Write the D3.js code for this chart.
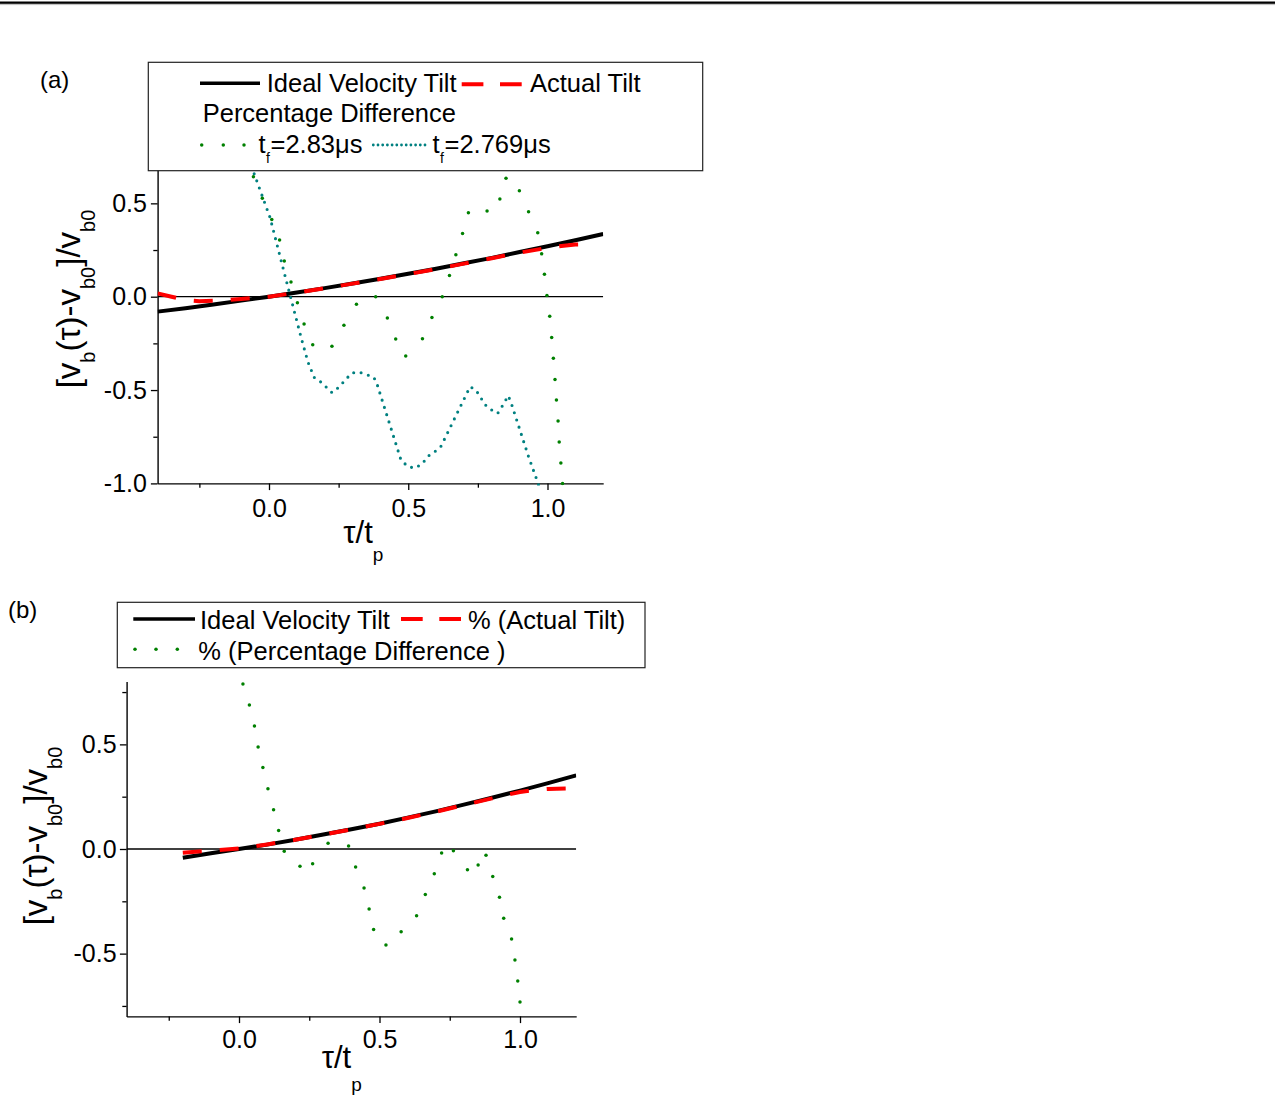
<!DOCTYPE html>
<html><head><meta charset="utf-8">
<script src="https://cdn.jsdelivr.net/npm/d3@7"></script>
<style>
body{margin:0;background:#fff}
svg{display:block}
text{font-family:"Liberation Sans",Arial,Helvetica,sans-serif;fill:#000}
</style>
</head><body>
<svg id="c" width="1275" height="1100"></svg>
<script>
// ---------------- DATA ----------------
// Panel (a)
const idealTauA = [-0.4,-0.3,-0.2,-0.1,0,0.1,0.2,0.3,0.4,0.5,0.6,0.7,0.8,0.9,1.0,1.1,1.2];
const idealValA = [-0.080,-0.062,-0.042,-0.021,0,0.023,0.046,0.071,0.096,0.123,0.150,0.179,0.208,0.239,0.270,0.302,0.336];
const actualTauA = [-0.4,-0.35,-0.3,-0.25,-0.2,-0.1,0,0.1,0.2,0.3,0.4,0.5,0.6,0.7,0.8,0.9,1.0,1.05,1.1,1.16];
const actualValA = [0.018,0.0,-0.018,-0.024,-0.022,-0.012,0.0,0.022,0.045,0.070,0.095,0.121,0.148,0.177,0.206,0.236,0.262,0.272,0.279,0.281];
const pct283Tau = [-0.056,-0.024,0.010,0.038,0.055,0.079,0.102,0.126,0.157,0.226,0.269,0.314,0.383,0.425,0.455,0.491,0.551,0.585,0.622,0.648,0.671,0.695,0.716,0.783,0.829,0.851,0.899,0.932,0.965,0.979,0.989,0.998,1.008,1.015,1.021,1.027,1.032,1.038,1.042,1.048,1.054];
const pct283Val = [0.643,0.527,0.414,0.304,0.191,0.079,-0.032,-0.146,-0.257,-0.266,-0.153,-0.041,0.0,-0.114,-0.227,-0.318,-0.225,-0.111,0.0,0.113,0.225,0.338,0.450,0.459,0.523,0.634,0.568,0.455,0.343,0.230,0.120,0.007,-0.105,-0.218,-0.330,-0.443,-0.553,-0.666,-0.778,-0.891,-1.0];
const pct2769Tau = [-0.10,-0.056,0.004,0.060,0.117,0.140,0.162,0.188,0.226,0.250,0.296,0.321,0.376,0.388,0.474,0.499,0.525,0.551,0.570,0.591,0.618,0.722,0.743,0.777,0.802,0.821,0.838,0.859,0.870,0.932,0.961,0.975];
const pct2769Val = [0.85,0.670,0.423,0.098,-0.228,-0.350,-0.432,-0.459,-0.514,-0.486,-0.410,-0.403,-0.430,-0.468,-0.875,-0.910,-0.918,-0.894,-0.855,-0.836,-0.800,-0.482,-0.500,-0.580,-0.610,-0.625,-0.585,-0.530,-0.571,-0.857,-0.978,-1.04];

// Panel (b)
const idealTauB = [-0.2,-0.1,0,0.1,0.2,0.3,0.4,0.5,0.6,0.7,0.8,0.9,1.0,1.1,1.2];
const idealValB = [-0.042,-0.020,0,0.021,0.044,0.069,0.094,0.121,0.150,0.180,0.212,0.245,0.279,0.315,0.352];
const actualTauB = [-0.2,-0.1,0,0.1,0.2,0.3,0.4,0.5,0.6,0.7,0.8,0.9,0.95,1.0,1.05,1.1,1.2];
const actualValB = [-0.018,-0.008,0.002,0.022,0.044,0.069,0.094,0.120,0.148,0.178,0.210,0.242,0.258,0.272,0.282,0.287,0.291];
const pctBTau = [0.014,0.037,0.055,0.068,0.085,0.103,0.123,0.141,0.161,0.217,0.262,0.317,0.390,0.415,0.445,0.463,0.479,0.523,0.577,0.632,0.663,0.695,0.721,0.763,0.813,0.851,0.879,0.903,0.927,0.942,0.970,0.982,0.992,1.0];
const pctBVal = [0.788,0.688,0.588,0.487,0.389,0.288,0.188,0.089,-0.011,-0.083,-0.070,0.027,0.014,-0.086,-0.186,-0.287,-0.385,-0.459,-0.395,-0.319,-0.218,-0.118,-0.019,-0.008,-0.099,-0.076,-0.030,-0.131,-0.231,-0.331,-0.430,-0.530,-0.631,-0.731];

// Ticks
const xMajor = [0, 0.5, 1.0];
const xMinor = [-0.25, 0.25, 0.75];
const yMajorA = [-1.0, -0.5, 0.0, 0.5];
const yMinorA = [-0.75, -0.25, 0.25];
const yMajorB = [-0.5, 0.0, 0.5];
const yMinorB = [-0.75, -0.25, 0.25, 0.75];

const zipPts = (a, b) => a.map((t, i) => [t, b[i]]);
const fmt = d => d3.format('.1f')(d).replace('\u2212', '-');

// ---------------- DRAW ----------------
const svg = d3.select('#c');
const FONT = 25;
const BLACK = '#000', RED = '#ff0000', GREEN = '#008000', TEAL = '#008080';

// top rule
svg.append('rect').attr('x', 0).attr('y', 1.5).attr('width', 1275).attr('height', 2.3).attr('fill', '#000');
svg.append('line').attr('x1', 0).attr('x2', 1275).attr('y1', 4.6).attr('y2', 4.6).attr('stroke', '#aaa').attr('stroke-width', 0.8);

function panel(cfg) {
  const x = d3.scaleLinear().domain(cfg.xDomain).range([cfg.left, cfg.right]);
  const y = d3.scaleLinear().domain(cfg.yDomain).range([cfg.bottom, cfg.top]);
  const g = svg.append('g');
  const clipId = 'clip' + cfg.id;
  svg.append('clipPath').attr('id', clipId).append('rect')
    .attr('x', cfg.left).attr('y', cfg.top - 2).attr('width', cfg.right - cfg.left).attr('height', cfg.bottom - cfg.top + 4);

  // axes
  g.append('g').attr('transform', `translate(0,${cfg.bottom})`)
    .call(d3.axisBottom(x).tickValues(xMajor).tickFormat(fmt).tickSize(6.7).tickSizeOuter(0).tickPadding(cfg.xPad));
  g.append('g').attr('transform', `translate(0,${cfg.bottom})`)
    .call(d3.axisBottom(x).tickValues(xMinor).tickFormat('').tickSize(4.3).tickSizeOuter(0))
    .select('.domain').remove();
  g.append('g').attr('transform', `translate(${cfg.left},0)`)
    .call(d3.axisLeft(y).tickValues(cfg.yMajor).tickFormat(fmt).tickSize(6.7).tickSizeOuter(0).tickPadding(cfg.yPad));
  g.append('g').attr('transform', `translate(${cfg.left},0)`)
    .call(d3.axisLeft(y).tickValues(cfg.yMinor).tickFormat('').tickSize(4.3).tickSizeOuter(0))
    .select('.domain').remove();
  g.selectAll('.domain').attr('stroke', '#000').attr('stroke-width', 1.4);
  g.selectAll('.tick line').attr('stroke', '#000').attr('stroke-width', 1.3);
  g.selectAll('.tick text').style('font-size', FONT + 'px').style('font-family', '"Liberation Sans",Arial,sans-serif').attr('fill', '#000');

  const plot = g.append('g').attr('clip-path', `url(#${clipId})`);
  // zero line
  plot.append('line').attr('x1', x(cfg.xDomain[0])).attr('x2', x(cfg.xDomain[1]))
    .attr('y1', y(0)).attr('y2', y(0)).attr('stroke', '#000').attr('stroke-width', 1.3);

  const line = d3.line().x(d => x(d[0])).y(d => y(d[1]));
  plot.append('path').attr('d', line(cfg.ideal)).attr('fill', 'none').attr('stroke', BLACK).attr('stroke-width', 4);
  plot.append('path').attr('d', line(cfg.actual)).attr('fill', 'none').attr('stroke', RED).attr('stroke-width', 4)
    .attr('stroke-dasharray', '19,18');
  if (cfg.teal) {
    plot.append('path').attr('d', line(cfg.teal)).attr('fill', 'none').attr('stroke', TEAL).attr('stroke-width', 3.1)
      .attr('stroke-linecap', 'round').attr('stroke-dasharray', '0,7.6');
  }
  plot.selectAll('circle.g').data(cfg.green).enter().append('circle')
    .attr('cx', d => x(d[0])).attr('cy', d => y(d[1])).attr('r', 1.75).attr('fill', GREEN);

  // y title
  const yt = svg.append('text').attr('transform', `translate(${cfg.yTitleX},${cfg.yTitleY}) rotate(-90)`)
    .attr('text-anchor', 'middle').style('font-size', '33px');
  const parts = [['[v', 0], ['b', 1], ['(τ)-v', 0], ['b0', 1], [']/v', 0], ['b0', 1]];
  let shifted = false;
  parts.forEach(([s, sub]) => {
    const ts = yt.append('tspan').text(s);
    if (sub) { ts.style('font-size', '20px').attr('dy', shifted ? 0 : 15); shifted = true; }
    else { ts.attr('dy', shifted ? -15 : 0); shifted = false; }
  });
  // x title
  const xt = svg.append('text').attr('x', cfg.xTitleX).attr('y', cfg.xTitleY).style('font-size', '31px');
  xt.append('tspan').text('τ/t');
  xt.append('tspan').text('p').style('font-size', '19px').attr('dy', cfg.xSubDy);
  return { x, y };
}

panel({
  id: 'a', xDomain: [-0.4, 1.2], yDomain: [-1.0, 0.7],
  left: 157.6, right: 603.2, bottom: 483.4, top: 483.4 - 1.7 * 186.7,
  yMajor: yMajorA, yMinor: yMinorA, xPad: 8.8, yPad: 4.0,
  ideal: zipPts(idealTauA, idealValA), actual: zipPts(actualTauA, actualValA),
  green: zipPts(pct283Tau, pct283Val), teal: zipPts(pct2769Tau, pct2769Val),
  yTitleX: 79.5, yTitleY: 299, xTitleX: 343.3, xTitleY: 543.3, xSubDy: 18
});
panel({
  id: 'b', xDomain: [-0.4, 1.2], yDomain: [-0.8, 0.8],
  left: 126.6, right: 576.2, bottom: 1016.4, top: 681.6,
  yMajor: yMajorB, yMinor: yMinorB, xPad: 7.2, yPad: 3.3,
  ideal: zipPts(idealTauB, idealValB), actual: zipPts(actualTauB, actualValB),
  green: zipPts(pctBTau, pctBVal), teal: null,
  yTitleX: 47, yTitleY: 836, xTitleX: 321.7, xTitleY: 1067.5, xSubDy: 23
});

// panel labels
svg.append('text').attr('x', 40).attr('y', 88).style('font-size', '24px').text('(a)');
svg.append('text').attr('x', 8).attr('y', 618).style('font-size', '24px').text('(b)');

// ---------------- LEGENDS ----------------
const LF = '25.5px';
function box(x0, y0, x1, y1) {
  svg.append('rect').attr('x', x0).attr('y', y0).attr('width', x1 - x0).attr('height', y1 - y0)
    .attr('fill', '#fff').attr('stroke', '#222').attr('stroke-width', 1.2);
}
function solid(x0, x1, yy) {
  svg.append('line').attr('x1', x0).attr('x2', x1).attr('y1', yy).attr('y2', yy).attr('stroke', BLACK).attr('stroke-width', 3.5);
}
function dashed(x0, x1, yy) {
  svg.append('line').attr('x1', x0).attr('x2', x1).attr('y1', yy).attr('y2', yy).attr('stroke', RED).attr('stroke-width', 4)
    .attr('stroke-dasharray', '21.7,16.6');
}
function dots(xs, yy) {
  xs.forEach(cx => svg.append('circle').attr('cx', cx).attr('cy', yy).attr('r', 1.75).attr('fill', GREEN));
}
function txt(x, y, s) { return svg.append('text').attr('x', x).attr('y', y).style('font-size', LF).text(s); }
function tf(x, y, rest) {
  const t = svg.append('text').attr('x', x).attr('y', y).style('font-size', LF);
  t.append('tspan').text('t');
  t.append('tspan').text('f').style('font-size', '14px').attr('dx', 0.5).attr('dy', 10);
  t.append('tspan').text(rest).attr('dx', 0.5).attr('dy', -10);
}

// legend (a)
box(148.3, 62.3, 702.7, 170.7);
solid(200, 260, 83.3);
txt(266.7, 91.7, 'Ideal Velocity Tilt');
dashed(461.7, 521.7, 84.3);
txt(530, 91.7, 'Actual Tilt');
txt(202.7, 122, 'Percentage Difference');
dots([201.7, 223.3, 244], 145);
tf(258.5, 153.3, '=2.83μs');
svg.append('line').attr('x1', 373.3).attr('x2', 425).attr('y1', 145).attr('y2', 145).attr('stroke', TEAL)
  .attr('stroke-width', 2.8).attr('stroke-linecap', 'round').attr('stroke-dasharray', '0,4.7');
tf(432.5, 153.3, '=2.769μs');

// legend (b)
box(117.3, 602.3, 645, 667.7);
solid(133.3, 195, 619);
txt(200, 629.3, 'Ideal Velocity Tilt');
dashed(401, 461, 619);
txt(468, 629.3, '% (Actual Tilt)');
dots([135, 156, 177.3], 649.3);
txt(198.3, 660, '% (Percentage Difference )');
</script>
</body></html>
